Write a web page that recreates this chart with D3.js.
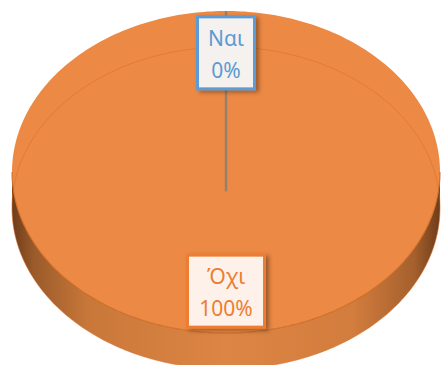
<!DOCTYPE html>
<html><head><meta charset="utf-8">
<script src="https://cdn.jsdelivr.net/npm/d3@7"></script>
<style>html,body{margin:0;padding:0;background:#fff;}svg{display:block;}</style>
</head><body>
<svg id="c" width="441" height="365"></svg>
<script>
const categories = ["Ναι", "Όχι"];
const values = [0, 100];
const percentLabels = ["0%", "100%"];
const labelColors = ["#5b9bd5", "#ed7d31"];
const labelFills = ["#f4f1ee", "#fdf1e9"];

const W = 441, H = 365;
const cx = 226, cy = 172, rx = 214, ry = 161, depth = 36;
const svg = d3.select("#c");

const pie = d3.pie().sort(null).value(d => d).startAngle(0).endAngle(2 * Math.PI);
const arcs = pie(values);

function proj(a, r, dy = 0) {
  return [cx + r * rx * Math.sin(a), cy + dy - r * ry * Math.cos(a)];
}

const defs = svg.append("defs");
const g = defs.append("linearGradient").attr("id", "side").attr("x1", 0).attr("x2", 1).attr("y1", 0).attr("y2", 0);
[[0, "#6e3c1a"], [0.05, "#9a5a2a"], [0.18, "#c9783a"], [0.5, "#dd8544"], [0.8, "#d27c3d"], [0.94, "#a5602d"], [1, "#6e3c1a"]]
  .forEach(([o, c]) => g.append("stop").attr("offset", o).attr("stop-color", c));
const f = defs.append("filter").attr("id", "sh").attr("x", "-20%").attr("y", "-20%").attr("width", "150%").attr("height", "150%");
f.append("feDropShadow").attr("dx", 3).attr("dy", 2).attr("stdDeviation", 2).attr("flood-color", "#000").attr("flood-opacity", 0.35);

const sidePts = [];
for (let i = 0; i <= 180; i++) { const a = Math.PI / 2 + i * Math.PI / 180; sidePts.push(proj(a, 1)); }
for (let i = 180; i >= 0; i--) { const a = Math.PI / 2 + i * Math.PI / 180; sidePts.push(proj(a, 1, depth)); }
svg.append("path").attr("d", d3.line()(sidePts) + "Z").attr("fill", "url(#side)");

arcs.forEach((d, i) => {
  if (d.endAngle - d.startAngle <= 0) return;
  const pts = [proj(0, 0)];
  const n = Math.max(2, Math.ceil((d.endAngle - d.startAngle) / (Math.PI / 180)));
  for (let k = 0; k <= n; k++) pts.push(proj(d.startAngle + (d.endAngle - d.startAngle) * k / n, 1));
  svg.append("path").attr("d", d3.line()(pts) + "Z").attr("fill", "#ec8944");
});

const rim = [];
for (let i = 0; i <= 360; i++) rim.push(proj(i * Math.PI / 180, 1, depth));
svg.append("path").attr("d", d3.line()(rim) + "Z").attr("fill", "none").attr("stroke", "#d96f25").attr("stroke-opacity", 0.55).attr("stroke-width", 1);

const edge = [];
for (let i = 0; i <= 180; i++) edge.push(proj(Math.PI / 2 + i * Math.PI / 180, 1));
svg.append("path").attr("d", d3.line()(edge)).attr("fill", "none").attr("stroke", "#c8661f").attr("stroke-width", 1.2).attr("stroke-opacity", 0.8);

arcs.forEach((d, i) => {
  if (d.endAngle - d.startAngle > 0) return;
  const p1 = proj(d.startAngle, 1), p2 = proj(d.startAngle + Math.PI, 0.12);
  svg.append("line").attr("x1", p1[0]).attr("y1", p1[1]).attr("x2", p2[0]).attr("y2", p2[1])
    .attr("stroke", "#938070").attr("stroke-width", 2.4);
});

const boxW = [57, 77], boxH = 72;
arcs.forEach((d, i) => {
  const mid = (d.startAngle + d.endAngle) / 2;
  const [lx, ly] = proj(mid, 0.74);
  const gg = svg.append("g");
  gg.append("rect").attr("x", lx - boxW[i] / 2).attr("y", ly - boxH / 2).attr("width", boxW[i]).attr("height", boxH)
    .attr("fill", labelFills[i]).attr("stroke", labelColors[i]).attr("stroke-width", 3).attr("filter", "url(#sh)");
  gg.append("text").attr("x", lx).attr("y", ly - 7).attr("text-anchor", "middle")
    .attr("font-family", "Noto Sans, Open Sans, sans-serif").attr("font-size", 21).attr("fill", labelColors[i])
    .text(categories[i]);
  gg.append("text").attr("x", lx).attr("y", ly + 25).attr("text-anchor", "middle")
    .attr("font-family", "Noto Sans, Open Sans, sans-serif").attr("font-size", 21).attr("fill", labelColors[i])
    .text(percentLabels[i]);
});
</script>
</body></html>
